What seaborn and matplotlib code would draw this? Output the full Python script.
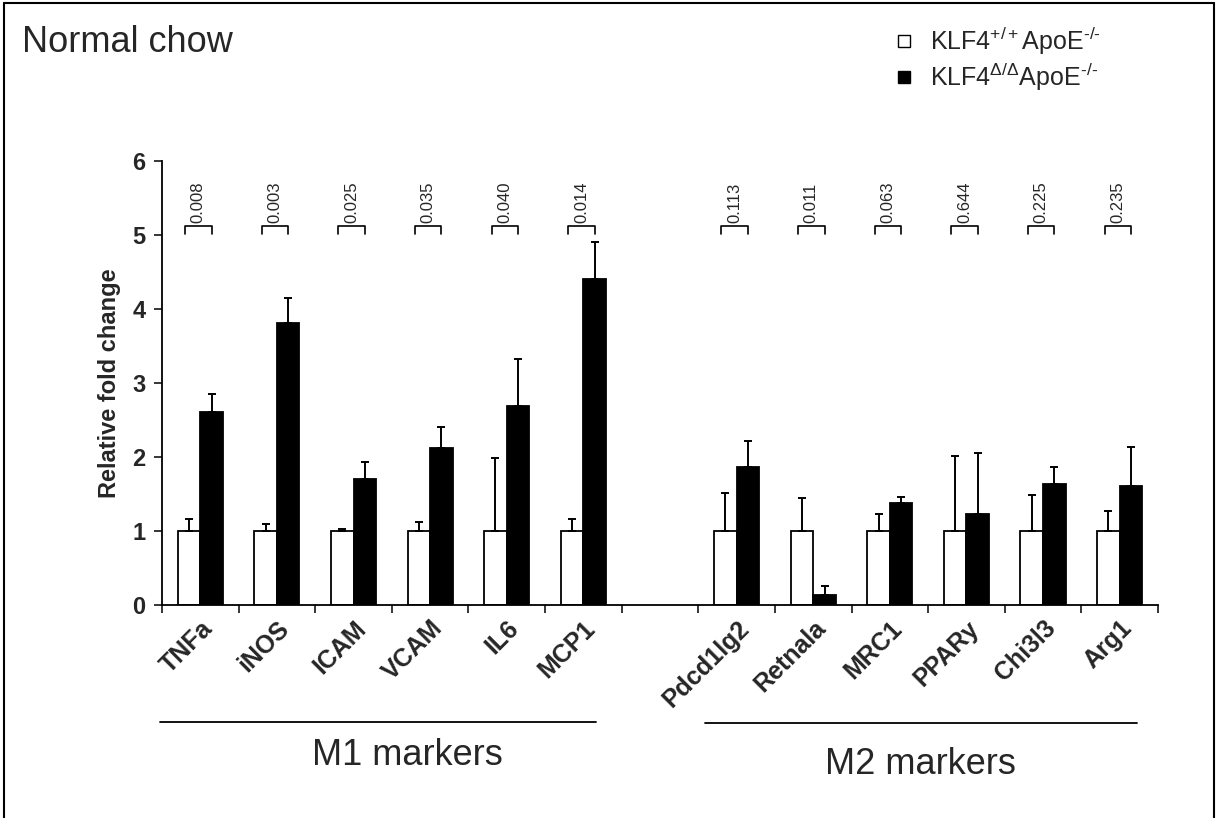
import pandas as pd
import matplotlib.pyplot as plt
import seaborn as sns
from matplotlib.lines import Line2D
from matplotlib.transforms import blended_transform_factory

sns.set_theme(style="white")
plt.rcParams["font.family"] = ["Liberation Sans", "DejaVu Sans"]
plt.rcParams["mathtext.fontset"] = "custom"
plt.rcParams["mathtext.rm"] = "Liberation Sans"
plt.rcParams["mathtext.it"] = "Liberation Sans:italic"
plt.rcParams["mathtext.bf"] = "Liberation Sans:bold"

# data (mean and upper SD)
m1_genes = ["TNFa", "iNOS", "ICAM", "VCAM", "IL6", "MCP1"]
m2_genes = ["Pdcd1lg2", "Retnala", "MRC1", "PPARy", "Chi3l3", "Arg1"]
genes = m1_genes + m2_genes
groups = ["KLF4$^{+/+}$ApoE$^{\u2010/\u2010}$", "KLF4$^{\\Delta/\\Delta}$ApoE$^{\u2010/\u2010}$"]
wt_mean = [1, 1, 1, 1, 1, 1, 1, 1, 1, 1, 1, 1]
wt_sd = [0.16, 0.10, 0.03, 0.12, 0.99, 0.16, 0.52, 0.45, 0.23, 1.02, 0.49, 0.27]
ko_mean = [2.61, 3.81, 1.70, 2.12, 2.69, 4.40, 1.87, 0.14, 1.38, 1.23, 1.63, 1.61]
ko_sd = [0.24, 0.34, 0.23, 0.29, 0.64, 0.51, 0.35, 0.12, 0.08, 0.82, 0.23, 0.53]
pvals = ["0.008", "0.003", "0.025", "0.035", "0.040", "0.014",
         "0.113", "0.011", "0.063", "0.644", "0.225", "0.235"]

order = m1_genes + [" "] + m2_genes
df = pd.DataFrame({
    "gene": genes * 2,
    "group": [groups[0]] * 12 + [groups[1]] * 12,
    "value": wt_mean + ko_mean,
})
sd = {groups[0]: dict(zip(genes, wt_sd)), groups[1]: dict(zip(genes, ko_sd))}

fig = plt.figure(figsize=(12.16, 8.18), dpi=100)
ax = fig.add_axes([0.1332, 0.2604, 0.8191, 0.5428])

sns.barplot(data=df, x="gene", y="value", hue="group", order=order,
            hue_order=groups, palette=["white", "black"], edgecolor="black",
            linewidth=1.3, width=0.59, errorbar=None, legend=False, ax=ax)

# one-sided error bars + collect bar centres
centres = {}
for cont, g in zip(ax.containers, groups):
    for bar in cont:
        xc = bar.get_x() + bar.get_width() / 2
        name = order[int(round(xc))]
        if name not in sd[g]:
            continue
        centres[(name, g)] = xc
        ax.errorbar(xc, bar.get_height(), yerr=[[0], [sd[g][name]]], fmt="none",
                    ecolor="black", elinewidth=1.4, capsize=3, capthick=1.4, zorder=1)

# p-value brackets
for gene, p in zip(genes, pvals):
    x0, x1 = centres[(gene, groups[0])], centres[(gene, groups[1])]
    x0 -= 0.05
    ax.plot([x0, x0, x1, x1], [5.02, 5.12, 5.12, 5.02], color="black", lw=1.2, clip_on=False)
    ax.text((x0 + x1) / 2, 5.16, p, rotation=90, ha="center", va="bottom", fontsize=12)

ax.set_ylim(0, 6)
ax.set_xlim(-0.5, 12.5)
ax.set_yticks(range(7))
ax.set_yticklabels([str(i) for i in range(7)], fontsize=17, fontweight="bold")
ax.set_xticks([i - 0.5 for i in range(14)])
ax.set_xticklabels([])
ax.set_xticks(range(13), minor=True)
ax.set_xticklabels(order, minor=True, rotation=45, ha="right", rotation_mode="anchor",
                   fontsize=18, fontweight="bold")
ax.tick_params(axis="x", which="major", direction="out", length=6, width=1.3, bottom=True)
ax.tick_params(axis="x", which="minor", length=0, pad=8)
ax.tick_params(axis="y", direction="out", length=6, width=1.3, left=True, pad=6)
ax.set_xlabel("")
ax.set_ylabel("Relative fold change", fontsize=17, fontweight="bold", labelpad=8)
for s in ["top", "right"]:
    ax.spines[s].set_visible(False)
for s in ["left", "bottom"]:
    ax.spines[s].set_color("black")
    ax.spines[s].set_linewidth(1.3)

# group underlines and labels
tr = blended_transform_factory(ax.transData, fig.transFigure)
ax.plot([-0.53, 5.17], [0.1174, 0.1174], color="black", lw=1.3, transform=tr, clip_on=False)
ax.plot([6.59, 12.22], [0.1162, 0.1162], color="black", lw=1.3, transform=tr, clip_on=False)
ax.text(2.7, 0.077, "M1 markers", transform=tr, ha="center", va="center", fontsize=26)
ax.text(9.4, 0.065, "M2 markers", transform=tr, ha="center", va="center", fontsize=26)

fig.text(0.018, 0.97, "Normal chow", ha="left", va="top", fontsize=26)

handles = [Line2D([], [], marker="s", ls="none", markersize=9, markerfacecolor=c,
                  markeredgecolor="black", markeredgewidth=1) for c in ["white", "black"]]
fig.legend(handles, groups, loc="upper left", bbox_to_anchor=(0.7146, 0.997),
           frameon=False, fontsize=18, handlelength=1, handletextpad=0.56, labelspacing=0.16)

# frame around the figure (no bottom edge)
for xs, ys in [([0.003, 0.003], [0, 0.996]), ([0.003, 0.998], [0.996, 0.996]),
               ([0.998, 0.998], [0, 0.996])]:
    fig.add_artist(Line2D(xs, ys, color="black", lw=1.5, transform=fig.transFigure))

fig.savefig("out.png", dpi=100)
